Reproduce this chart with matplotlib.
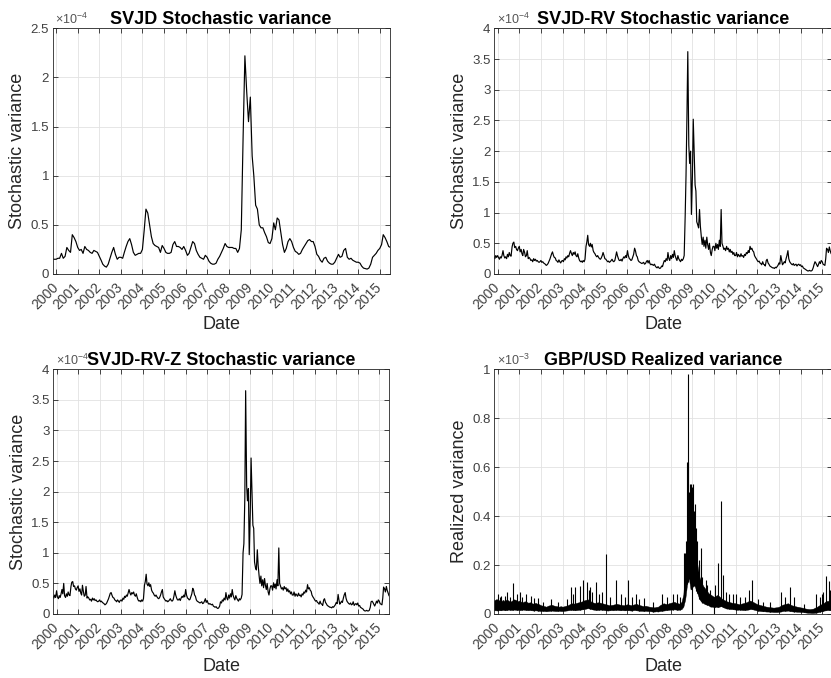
import numpy as np
import pandas as pd
import matplotlib
matplotlib.use("Agg")
import matplotlib.pyplot as plt
import matplotlib.dates as mdates
from matplotlib.ticker import FuncFormatter

plt.rcParams["font.family"] = ["Liberation Sans", "DejaVu Sans"]
plt.rcParams["mathtext.fontset"] = "custom"
plt.rcParams["mathtext.rm"] = "Liberation Sans"
plt.rcParams["mathtext.it"] = "Liberation Sans:italic"
plt.rcParams["mathtext.bf"] = "Liberation Sans:bold"

# ---------------------------------------------------------------- time axes
monthly_dates = pd.date_range("1999-11-01", "2015-07-01", freq="MS")
semimonthly_dates = pd.date_range("1999-11-01", "2015-06-15", freq="SMS")
x_start = pd.Timestamp("1999-11-01")
x_end = pd.Timestamp("2015-06-15")

# ---------------------------------------------------------------- SVJD (x 1e-4), monthly
svjd_var = [
    .15, .15,
    .15, .16, .16, .21, .16, .18, .27, .24, .22, .40, .37, .33,   # 2000
    .27, .24, .25, .21, .28, .25, .24, .22, .21, .24, .23, .22,   # 2001
    .18, .14, .10, .08, .07, .10, .16, .22, .27, .20, .15, .17,   # 2002
    .17, .16, .22, .28, .33, .36, .30, .22, .19, .20, .21, .21,   # 2003
    .25, .45, .66, .62, .50, .38, .31, .29, .28, .27, .22, .29,   # 2004
    .26, .22, .21, .21, .22, .30, .33, .28, .28, .27, .25, .28,   # 2005
    .24, .19, .21, .27, .33, .31, .24, .20, .17, .16, .15, .19,   # 2006
    .17, .13, .11, .10, .10, .11, .15, .18, .22, .26, .31, .28,   # 2007
    .27, .27, .27, .26, .26, .22, .26, .45, 1.40, 2.22, 1.85, 1.55,  # 2008
    1.80, 1.20, 1.00, .70, .66, .50, .47, .47, .42, .38, .32, .31,  # 2009
    .36, .52, .45, .57, .55, .42, .30, .22, .26, .33, .36, .33,   # 2010
    .27, .23, .22, .20, .21, .25, .28, .31, .34, .35, .33, .33,   # 2011
    .28, .20, .18, .14, .12, .16, .17, .13, .11, .10, .10, .12,   # 2012
    .16, .20, .17, .18, .24, .26, .17, .15, .16, .14, .13, .12,   # 2013
    .12, .11, .08, .06, .055, .05, .06, .10, .17, .19, .21, .24,  # 2014
    .26, .30, .40, .37, .33, .28, .27,                            # 2015
]

# ---------------------------------------------------------------- SVJD-RV (x 1e-4), semi-monthly
svjd_rv_var = [
    .28, .25, .30, .27,
    .30, .27, .24, .28, .26, .30, .38, .30, .26, .28, .25, .32, .28, .35, .30, .29, .44, .50, .52, .43, .45, .40, .38, .42,  # 2000
    .45, .36, .40, .33, .30, .40, .35, .28, .30, .38, .25, .27, .25, .22, .23, .20, .25, .22, .24, .21, .22, .20, .19, .20,  # 2001
    .22, .19, .20, .18, .17, .16, .14, .15, .17, .20, .24, .28, .33, .36, .30, .27, .26, .22, .21, .19, .23, .20, .18, .21,  # 2002
    .22, .20, .25, .23, .28, .26, .30, .28, .34, .38, .33, .30, .35, .32, .36, .30, .28, .33, .26, .22, .20, .21, .19, .22,  # 2003
    .20, .24, .45, .52, .63, .48, .45, .50, .44, .48, .38, .35, .33, .30, .28, .30, .27, .25, .24, .26, .30, .35, .30, .25,  # 2004
    .24, .22, .20, .21, .19, .20, .22, .24, .21, .20, .22, .28, .36, .30, .25, .22, .22, .24, .21, .25, .28, .26, .30, .27,  # 2005
    .38, .30, .25, .24, .22, .23, .28, .32, .42, .38, .30, .28, .22, .20, .19, .18, .17, .18, .19, .16, .17, .20, .22, .18,  # 2006
    .22, .17, .15, .16, .15, .14, .16, .13, .11, .10, .12, .10, .09, .10, .13, .12, .18, .22, .20, .25, .22, .35, .25, .22,  # 2007
    .30, .25, .32, .27, .38, .30, .25, .22, .30, .25, .22, .20, .24, .22, .25, .30, .95, 1.60, 2.60, 3.62, 2.10, 1.80, 2.00, .97,  # 2008
    1.60, 2.52, 1.90, 1.45, 1.35, .85, .80, .75, 1.05, .78, .60, .48, .60, .45, .55, .42, .60, .48, .40, .50, .35, .30, .40, .45,  # 2009
    .45, .38, .50, .42, .48, .40, .55, .45, 1.05, .50, .45, .40, .42, .38, .45, .40, .42, .36, .40, .35, .37, .32, .35, .30,  # 2010
    .30, .35, .28, .32, .30, .28, .33, .29, .30, .27, .32, .30, .35, .33, .38, .35, .45, .40, .42, .38, .36, .30, .27, .25,  # 2011
    .22, .20, .21, .18, .17, .15, .20, .16, .15, .13, .22, .24, .18, .16, .13, .12, .11, .10, .10, .09, .11, .10, .12, .14,  # 2012
    .18, .16, .30, .22, .15, .17, .20, .18, .25, .30, .38, .25, .20, .18, .16, .15, .17, .14, .15, .16, .13, .15, .16, .14,  # 2013
    .15, .12, .13, .10, .09, .08, .07, .06, .05, .05, .06, .05, .05, .06, .10, .15, .20, .18, .15, .12, .16, .20, .17, .22,  # 2014
    .20, .16, .15, .14, .25, .42, .40, .35, .44, .38, .33, .36,  # 2015
]

# ---------------------------------------------------------------- SVJD-RV-Z (x 1e-4), semi-monthly
svjd_rvz_var = [
    .29, .26, .31, .27,
    .38, .28, .25, .30, .27, .32, .40, .33, .50, .30, .27, .33, .29, .36, .31, .30, .45, .52, .53, .45, .46, .41, .39, .43,  # 2000
    .46, .37, .41, .34, .31, .47, .36, .29, .31, .45, .26, .28, .26, .23, .24, .21, .26, .23, .25, .22, .23, .21, .20, .21,  # 2001
    .23, .20, .21, .19, .18, .17, .15, .16, .18, .21, .25, .29, .34, .35, .30, .27, .26, .23, .22, .20, .23, .21, .19, .22,  # 2002
    .23, .21, .26, .24, .29, .27, .31, .29, .35, .40, .34, .31, .35, .33, .36, .31, .29, .33, .27, .23, .21, .22, .20, .23,  # 2003
    .21, .25, .47, .53, .65, .49, .46, .51, .45, .48, .39, .36, .34, .31, .29, .31, .28, .26, .25, .27, .31, .36, .40, .28,  # 2004
    .25, .23, .21, .22, .20, .21, .23, .25, .22, .21, .23, .29, .38, .31, .26, .23, .23, .25, .22, .26, .29, .27, .31, .28,  # 2005
    .40, .31, .26, .25, .23, .24, .29, .33, .42, .39, .31, .29, .23, .21, .20, .19, .18, .19, .20, .17, .18, .21, .25, .19,  # 2006
    .22, .18, .16, .17, .16, .15, .16, .13, .12, .11, .12, .10, .09, .10, .13, .20, .18, .23, .21, .26, .23, .35, .26, .23,  # 2007
    .31, .26, .33, .28, .40, .31, .26, .23, .30, .26, .23, .21, .25, .23, .26, .32, 1.00, 1.15, 1.90, 3.65, 2.10, 1.85, 2.05, .97,  # 2008
    1.65, 2.55, 1.95, 1.45, 1.40, .85, .75, .72, 1.05, .80, .62, .50, .62, .46, .56, .43, .58, .47, .40, .50, .36, .31, .41, .46,  # 2009
    .46, .39, .51, .43, .49, .41, .56, .46, 1.08, .50, .45, .41, .43, .39, .45, .41, .43, .37, .41, .36, .38, .33, .36, .31,  # 2010
    .31, .36, .29, .33, .31, .29, .34, .30, .31, .28, .33, .31, .36, .34, .39, .36, .48, .41, .43, .39, .37, .31, .28, .26,  # 2011
    .23, .21, .22, .19, .18, .16, .21, .17, .16, .14, .23, .25, .19, .17, .14, .13, .12, .11, .11, .10, .12, .11, .13, .15,  # 2012
    .19, .17, .32, .23, .16, .18, .21, .19, .26, .31, .35, .26, .21, .19, .17, .16, .18, .15, .16, .20, .14, .16, .17, .15,  # 2013
    .18, .13, .14, .11, .10, .09, .08, .06, .05, .05, .06, .05, .05, .06, .11, .20, .21, .19, .16, .13, .17, .21, .18, .23,  # 2014
    .21, .17, .16, .15, .26, .44, .41, .36, .45, .39, .34, .30,  # 2015
]

# ---------------------------------------------------------------- GBP/USD realized variance (x 1e-3)
# monthly range of the daily values (lower and upper edge of the daily band)
rv_low = [
    .015, .015,
    .014, .016, .015, .017, .015, .016, .018, .017, .016, .018, .017, .016,  # 2000
    .017, .016, .018, .017, .016, .015, .016, .015, .014, .015, .014, .013,  # 2001
    .012, .013, .012, .011, .012, .013, .014, .013, .012, .012, .013, .012,  # 2002
    .012, .013, .014, .015, .016, .017, .016, .015, .016, .017, .018, .019,  # 2003
    .020, .022, .024, .022, .020, .018, .017, .016, .017, .018, .017, .016,  # 2004
    .015, .014, .015, .016, .015, .016, .017, .016, .015, .016, .015, .015,  # 2005
    .016, .015, .014, .015, .016, .015, .014, .013, .013, .012, .013, .012,  # 2006
    .012, .011, .010, .010, .011, .010, .012, .013, .014, .015, .016, .017,  # 2007
    .018, .018, .019, .018, .017, .018, .020, .030, .060, .120, .150, .100,  # 2008
    .110, .120, .100, .080, .060, .050, .045, .040, .038, .035, .030, .030,  # 2009
    .028, .030, .028, .030, .032, .028, .025, .022, .022, .020, .020, .019,  # 2010
    .018, .017, .018, .017, .016, .016, .017, .018, .020, .020, .018, .016,  # 2011
    .014, .013, .012, .011, .011, .010, .010, .009, .009, .008, .008, .008,  # 2012
    .009, .010, .012, .013, .013, .014, .012, .011, .010, .010, .009, .009,  # 2013
    .008, .008, .007, .006, .005, .005, .004, .004, .005, .006, .008, .010,  # 2014
    .012, .014, .015, .016, .016, .015, .015,                                # 2015
]
rv_high = [
    .055, .060,
    .060, .055, .052, .058, .052, .060, .055, .050, .055, .060, .058, .052,  # 2000
    .055, .050, .048, .052, .050, .046, .048, .044, .042, .046, .042, .040,  # 2001
    .036, .034, .032, .030, .034, .036, .038, .035, .033, .032, .030, .032,  # 2002
    .030, .032, .034, .036, .040, .044, .042, .044, .046, .048, .050, .052,  # 2003
    .056, .058, .060, .055, .050, .047, .045, .047, .048, .046, .044, .042,  # 2004
    .040, .038, .036, .037, .038, .040, .042, .040, .038, .037, .036, .038,  # 2005
    .040, .038, .036, .038, .040, .042, .038, .036, .034, .032, .034, .032,  # 2006
    .030, .029, .028, .027, .029, .030, .036, .040, .044, .042, .040, .044,  # 2007
    .046, .048, .050, .046, .044, .042, .050, .080, .200, .320, .300, .260,  # 2008
    .280, .300, .240, .190, .150, .130, .115, .105, .095, .085, .080, .075,  # 2009
    .070, .075, .078, .072, .065, .060, .056, .052, .050, .048, .046, .045,  # 2010
    .044, .042, .040, .042, .044, .046, .048, .052, .055, .052, .048, .044,  # 2011
    .040, .038, .036, .034, .032, .030, .029, .028, .027, .026, .027, .028,  # 2012
    .030, .034, .038, .040, .042, .044, .040, .036, .034, .032, .030, .029,  # 2013
    .027, .026, .024, .022, .021, .020, .021, .022, .026, .029, .034, .038,  # 2014
    .042, .046, .052, .054, .053, .048, .046,                                # 2015
]
# individual high days
rv_spike_dates = pd.to_datetime([
    "2000-01-10", "2000-02-10", "2000-03-01", "2000-05-01", "2000-06-15", "2000-08-01",
    "2000-09-20", "2000-11-15", "2001-01-05", "2001-02-20", "2001-04-20", "2001-07-10",
    "2001-09-10", "2001-11-20", "2002-02-01", "2002-06-20", "2002-10-10", "2003-03-15",
    "2003-05-20", "2003-07-01", "2003-08-05", "2003-10-25", "2003-12-20", "2004-02-20",
    "2004-03-20", "2004-04-10", "2004-05-15", "2004-07-20", "2004-09-10", "2004-11-01",
    "2004-12-30", "2005-03-10", "2005-06-25", "2005-09-15", "2005-11-20", "2006-01-02",
    "2006-03-10", "2006-05-20", "2006-07-10", "2006-10-10", "2007-03-01", "2007-08-15",
    "2007-11-01", "2008-02-10", "2008-04-20", "2008-06-01", "2008-08-20", "2008-09-05",
    "2008-09-20", "2008-10-05", "2008-10-12", "2008-10-22", "2008-10-28", "2008-11-05",
    "2008-11-15", "2008-12-05", "2008-12-20", "2009-01-10", "2009-01-20", "2009-01-28",
    "2009-02-10", "2009-03-10", "2009-03-25", "2009-04-15", "2009-04-28", "2009-05-20",
    "2009-06-20", "2009-08-10", "2009-09-10", "2009-10-20", "2010-01-15", "2010-03-01",
    "2010-05-01", "2010-06-01", "2010-07-20", "2010-09-15", "2010-11-10", "2011-01-10",
    "2011-03-20", "2011-06-10", "2011-08-10", "2011-10-01", "2012-01-20", "2012-04-10",
    "2012-08-10", "2013-02-10", "2013-04-10", "2013-07-10", "2013-09-20", "2014-03-01",
    "2014-09-10", "2014-11-20", "2014-12-20", "2015-01-15", "2015-03-10", "2015-04-25",
    "2015-05-20",
])
rv_spike_values = [
    .080, .070, .075, .075, .090, .070,
    .125, .080, .090, .070, .080, .075,
    .065, .065, .050, .060, .050, .060,
    .110, .080, .110, .115, .140, .130,
    .100, .110, .090, .130, .080, .090,
    .245, .070, .140, .080, .070, .140,
    .070, .080, .060, .065, .050, .080,
    .070, .080, .080, .070, .250, .250,
    .300, .620, .980, .620, .500, .450,
    .530, .530, .520, .530, .420, .380,
    .450, .350, .300, .200, .220, .270,
    .150, .140, .120, .100, .120, .210,
    .460, .160, .090, .080, .080, .080,
    .070, .070, .100, .140, .060, .050,
    .050, .090, .070, .110, .070, .040,
    .080, .070, .080, .090, .155, .135,
    .100,
]
# individual low days
rv_dip_dates = pd.to_datetime(["2008-12-31", "2009-12-28"])
rv_dip_values = [.000, .002]

# ---------------------------------------------------------------- drawing
ink = "#262626"
tick_ink = "#404040"
line_kw = dict(color="black", lw=0.85)


def style_axes(ax, ymax, yticks, ylabel, title, exponent, xlabel_y):
    ax.set_xlim(x_start, x_end)
    ax.set_ylim(0, ymax)
    ax.set_yticks(yticks)
    ax.yaxis.set_major_formatter(FuncFormatter(lambda v, p: f"{v:g}"))
    ax.xaxis.set_major_locator(mdates.YearLocator())
    ax.xaxis.set_major_formatter(mdates.DateFormatter("%Y"))
    ax.tick_params(direction="in", top=True, right=True, length=3.5, width=0.6,
                   colors=ink, labelcolor=tick_ink, labelsize=9.5)
    ax.tick_params(axis="y", pad=2.5)
    ax.tick_params(axis="x", pad=8, labelsize=10)
    for lbl in ax.get_xticklabels():
        lbl.set_rotation(45)
        lbl.set_rotation_mode("anchor")
        lbl.set_ha("right")
        lbl.set_va("center")
    ax.grid(True, color="#e2e2e2", lw=0.6)
    ax.set_axisbelow(True)
    for sp in ax.spines.values():
        sp.set_color(ink)
        sp.set_linewidth(0.6)
    ax.set_title(title, fontsize=13, fontweight="bold", pad=3.2, color="black")
    ax.set_ylabel(ylabel, fontsize=13, color=ink)
    ax.yaxis.set_label_coords(-0.078, 0.5)
    ax.set_xlabel("Date", fontsize=13, color=ink)
    ax.xaxis.set_label_coords(0.5, xlabel_y)
    ax.text(0.008, 1.004, r"$\times10^{%d}$" % exponent, transform=ax.transAxes,
            ha="left", va="bottom", fontsize=9, color="#555555")


fig = plt.figure(figsize=(8.31, 6.78), dpi=100)
W, H = 831.0, 678.0
ax_tl = fig.add_axes([52.5 / W, 1 - 274 / H, 337 / W, 245.7 / H])
ax_tr = fig.add_axes([494 / W, 1 - 274 / H, 338 / W, 245.7 / H])
ax_bl = fig.add_axes([53 / W, 1 - 614 / H, 336 / W, 244.7 / H])
ax_br = fig.add_axes([494 / W, 1 - 614 / H, 338 / W, 244.7 / H])

ax_tl.plot(monthly_dates, svjd_var, **line_kw)
style_axes(ax_tl, 2.5, [0, 0.5, 1, 1.5, 2, 2.5], "Stochastic variance",
           "SVJD Stochastic variance", -4, -0.171)

ax_tr.plot(semimonthly_dates, svjd_rv_var, **line_kw)
style_axes(ax_tr, 4, [0, 0.5, 1, 1.5, 2, 2.5, 3, 3.5, 4], "Stochastic variance",
           "SVJD-RV Stochastic variance", -4, -0.171)

ax_bl.plot(semimonthly_dates, svjd_rvz_var, **line_kw)
style_axes(ax_bl, 4, [0, 0.5, 1, 1.5, 2, 2.5, 3, 3.5, 4], "Stochastic variance",
           "SVJD-RV-Z Stochastic variance", -4, -0.179)

mnum = mdates.date2num(monthly_dates)
ax_br.fill_between(monthly_dates, rv_low, rv_high, color="black", lw=0.3)
spike_base = np.interp(mdates.date2num(rv_spike_dates), mnum, rv_low)
ax_br.vlines(rv_spike_dates, spike_base, rv_spike_values, color="black", lw=0.8)
dip_top = np.interp(mdates.date2num(rv_dip_dates), mnum, rv_high)
ax_br.vlines(rv_dip_dates, rv_dip_values, dip_top, color="black", lw=0.8)
style_axes(ax_br, 1, [0, 0.2, 0.4, 0.6, 0.8, 1], "Realized variance",
           "GBP/USD Realized variance", -3, -0.179)

fig.savefig("out.png", dpi=100)
